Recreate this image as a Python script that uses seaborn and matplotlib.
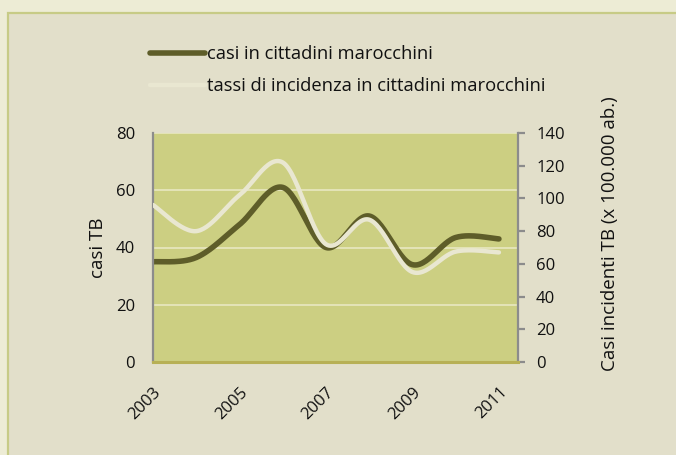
import numpy as np
import pandas as pd
import matplotlib
matplotlib.use("Agg")
import matplotlib.pyplot as plt
import seaborn as sns
from matplotlib.patches import Rectangle
from matplotlib.lines import Line2D

# ---- data ----
years = [2003, 2004, 2005, 2006, 2007, 2008, 2009, 2010, 2011]
casi = [35, 36.5, 48, 61, 40, 51, 34, 43.5, 43]
tassi = [96, 80, 102, 122, 72, 87, 55, 67.5, 67]
tick_years = [2003, 2005, 2007, 2009, 2011]
left_ticks = [0, 20, 40, 60, 80]
right_ticks = [0, 20, 40, 60, 80, 100, 120, 140]
label_casi = "casi in cittadini marocchini"
label_tassi = "tassi di incidenza in cittadini marocchini"
ylabel_left = "casi TB"
ylabel_right = "Casi incidenti TB (x 100.000 ab.)"


def smooth(x, y, n=30):
    """Excel-style smoothed line (Catmull-Rom Bezier) through the points."""
    x = np.asarray(x, float)
    y = np.asarray(y, float)
    px = np.concatenate([[x[0]], x, [x[-1]]])
    py = np.concatenate([[y[0]], y, [y[-1]]])
    xs, ys = [], []
    t = np.linspace(0, 1, n)
    for i in range(1, len(px) - 2):
        p0 = np.array([px[i], py[i]])
        p3 = np.array([px[i + 1], py[i + 1]])
        b1 = p0 + (np.array([px[i + 1], py[i + 1]]) - np.array([px[i - 1], py[i - 1]])) / 6
        b2 = p3 - (np.array([px[i + 2], py[i + 2]]) - np.array([px[i], py[i]])) / 6
        pts = ((1 - t) ** 3)[:, None] * p0 + (3 * (1 - t) ** 2 * t)[:, None] * b1 \
            + (3 * (1 - t) * t ** 2)[:, None] * b2 + (t ** 3)[:, None] * p3
        xs.extend(pts[:, 0])
        ys.extend(pts[:, 1])
    return np.array(xs), np.array(ys)


sns.set_theme(style="white")
plt.rcParams["font.family"] = ["Open Sans", "DejaVu Sans"]

W, H = 676, 455
fig = plt.figure(figsize=(W / 100, H / 100), dpi=100)
fig.patch.set_facecolor("#edecd5")
bg = Rectangle((8 / W, -0.01), 1, 1 - 13 / H + 0.01, transform=fig.transFigure,
               facecolor="#e2dfca", edgecolor="#c7cb86", lw=1.6, zorder=-10)
fig.add_artist(bg)

x0, x1, y0, y1 = 153, 518, 133, 362
ax = fig.add_axes([x0 / W, 1 - y1 / H, (x1 - x0) / W, (y1 - y0) / H])
ax.set_facecolor("#cccf82")
ax2 = ax.twinx()

dark = "#5e5d29"
light = "#e9e7d1"
cx, cy = smooth(years, casi)
tx, ty = smooth(years, tassi)
df_c = pd.DataFrame({"anno": cx, "casi": cy})
df_t = pd.DataFrame({"anno": tx, "tassi": ty})

ax.set_ylim(0, 80)
ax2.set_ylim(0, 140)
xmax = 2011 + 19 / 43.1
ax.set_xlim(2003, xmax)

for v in left_ticks[1:]:
    ax.axhline(v, color="#e4e4b8", lw=1.4, zorder=1)

sns.lineplot(data=df_c, x="anno", y="casi", ax=ax, color=dark, lw=4.0,
             sort=False, estimator=None, zorder=3)
sns.lineplot(data=df_t, x="anno", y="tassi", ax=ax2, color=light, lw=3.2,
             sort=False, estimator=None, zorder=3)

ax.set_yticks(left_ticks)
ax.set_yticklabels([str(v) for v in left_ticks])
ax2.set_yticks(right_ticks)
ax2.set_yticklabels([str(v) for v in right_ticks])
ax.set_xticks(tick_years)
ax.set_xticklabels([str(v) for v in tick_years], rotation=45, ha="right",
                   va="top", rotation_mode="anchor")
ax.tick_params(axis="x", length=0, pad=16, labelsize=12, colors="#111111")
ax.tick_params(axis="y", length=0, pad=13, labelsize=12, colors="#111111")
ax2.tick_params(axis="y", length=5, width=1.6, color="#8c8c8c", pad=8,
                labelsize=12, labelcolor="#111111", direction="out")
ax.set_xlabel("")
ax.set_ylabel(ylabel_left, fontsize=13.5, color="#111111", labelpad=6)
ax2.set_ylabel(ylabel_right, fontsize=13.5, color="#111111")
ax2.yaxis.set_label_coords((601 - x0) / (x1 - x0), (y1 - 234) / (y1 - y0))

for a in (ax, ax2):
    for s in ("top", "left", "right", "bottom"):
        a.spines[s].set_visible(False)
ax2.spines["left"].set_visible(True)
ax2.spines["left"].set_color("#8c8c8c")
ax2.spines["left"].set_linewidth(1.6)
ax2.spines["right"].set_visible(True)
ax2.spines["right"].set_color("#8c8c8c")
ax2.spines["right"].set_linewidth(1.6)
ax2.spines["bottom"].set_visible(True)
ax2.spines["bottom"].set_color("#b7b055")
ax2.spines["bottom"].set_linewidth(2.2)
ax2.set_xlabel("")

handles = [Line2D([], [], color=dark, lw=4.0), Line2D([], [], color=light, lw=3.2)]
leg = fig.legend(handles, [label_casi, label_tassi], loc="upper left",
                 bbox_to_anchor=(141 / W, 1 - 36 / H), frameon=False,
                 fontsize=13.2, handlelength=3.0, handletextpad=0.1,
                 labelspacing=0.75, borderpad=0)
for t in leg.get_texts():
    t.set_color("#111111")

fig.savefig("out.png", dpi=100, facecolor=fig.get_facecolor())
